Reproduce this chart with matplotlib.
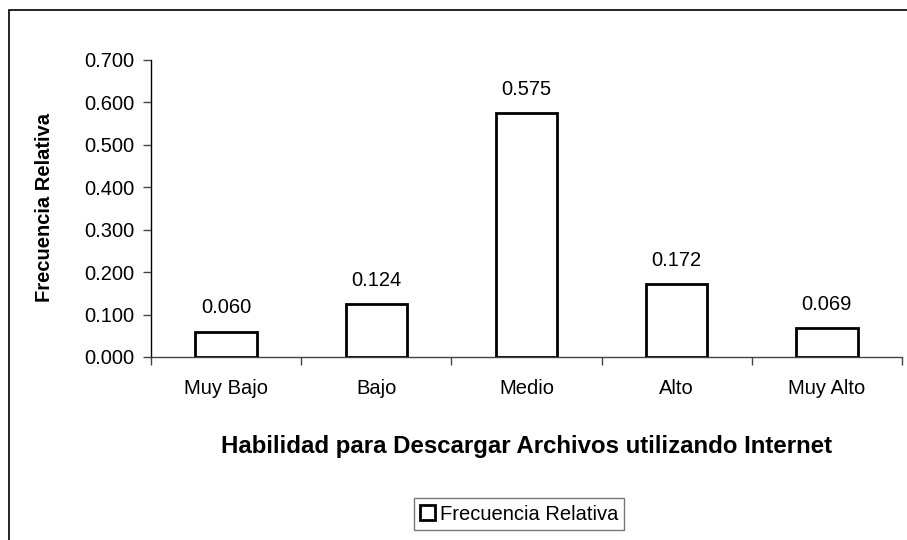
import matplotlib
matplotlib.use("Agg")
import matplotlib.pyplot as plt
from matplotlib.patches import Rectangle, Patch
from matplotlib.ticker import FixedLocator, MultipleLocator, FormatStrFormatter

plt.rcParams['font.family'] = ['Liberation Sans', 'DejaVu Sans']

categories = ["Muy Bajo", "Bajo", "Medio", "Alto", "Muy Alto"]
values = [0.060, 0.124, 0.575, 0.172, 0.069]
value_labels = ["0.060", "0.124", "0.575", "0.172", "0.069"]
series_name = "Frecuencia Relativa"
x_title = "Habilidad para Descargar Archivos utilizando Internet"
y_title = "Frecuencia Relativa"

W, H = 907, 540
fig = plt.figure(figsize=(W/100, H/100), dpi=100)
fig.patch.set_facecolor('white')

# outer chart frame (only left and top edges visible)
fig.add_artist(Rectangle((9/W, -0.2), 2.0, 1 - 10/H + 0.2, transform=fig.transFigure,
                         fill=False, edgecolor='black', linewidth=1.2))

ax = fig.add_axes([151/W, 1 - 357/H, (902-151)/W, (357-60)/H])
x = list(range(len(categories)))
ax.bar(x, values, width=0.41, facecolor='white', edgecolor='black', linewidth=2,
       label=series_name, zorder=3)

ax.set_xlim(-0.5, len(categories) - 0.5)
ax.set_ylim(0, 0.7)
ax.yaxis.set_major_locator(MultipleLocator(0.1))
ax.yaxis.set_major_formatter(FormatStrFormatter('%.3f'))

ax.set_xticks(x)
ax.set_xticklabels(categories)
ax.xaxis.set_minor_locator(FixedLocator([i - 0.5 for i in range(len(categories) + 1)]))
ax.tick_params(axis='x', which='major', length=0, pad=16, labelsize=14.5)
ax.tick_params(axis='x', which='minor', length=6, direction='out', width=1, color='#444444')
ax.tick_params(axis='y', length=6, direction='out', width=1, labelsize=14.5, pad=6, color='#444444')

for s in ['top', 'right']:
    ax.spines[s].set_visible(False)
ax.spines['left'].set_color('black')
ax.spines['bottom'].set_color('#444444')
ax.spines['left'].set_linewidth(1)
ax.spines['bottom'].set_linewidth(1)

for xi, v, lab in zip(x, values, value_labels):
    ax.annotate(lab, (xi, v), xytext=(0, 17), textcoords='offset points',
                ha='center', va='center', fontsize=14.5)

fig.text(45/W, 1 - 207/H, y_title, rotation=90, ha='center', va='center',
         fontsize=14.5, fontweight='bold')
fig.text(527/W, 1 - 447/H, x_title, ha='center', va='center',
         fontsize=17.3, fontweight='bold')

handle = Patch(facecolor='white', edgecolor='black', linewidth=2)
leg = fig.legend([handle], [series_name], loc='center', bbox_to_anchor=(519/W, 1 - 514/H),
                 fontsize=14.5, frameon=True, fancybox=False, edgecolor='#555555',
                 handlelength=0.75, handleheight=0.75, handletextpad=0.25, borderpad=0.3,
                 borderaxespad=0)
leg.get_frame().set_linewidth(1)

fig.savefig('out.png', dpi=100, facecolor='white')
